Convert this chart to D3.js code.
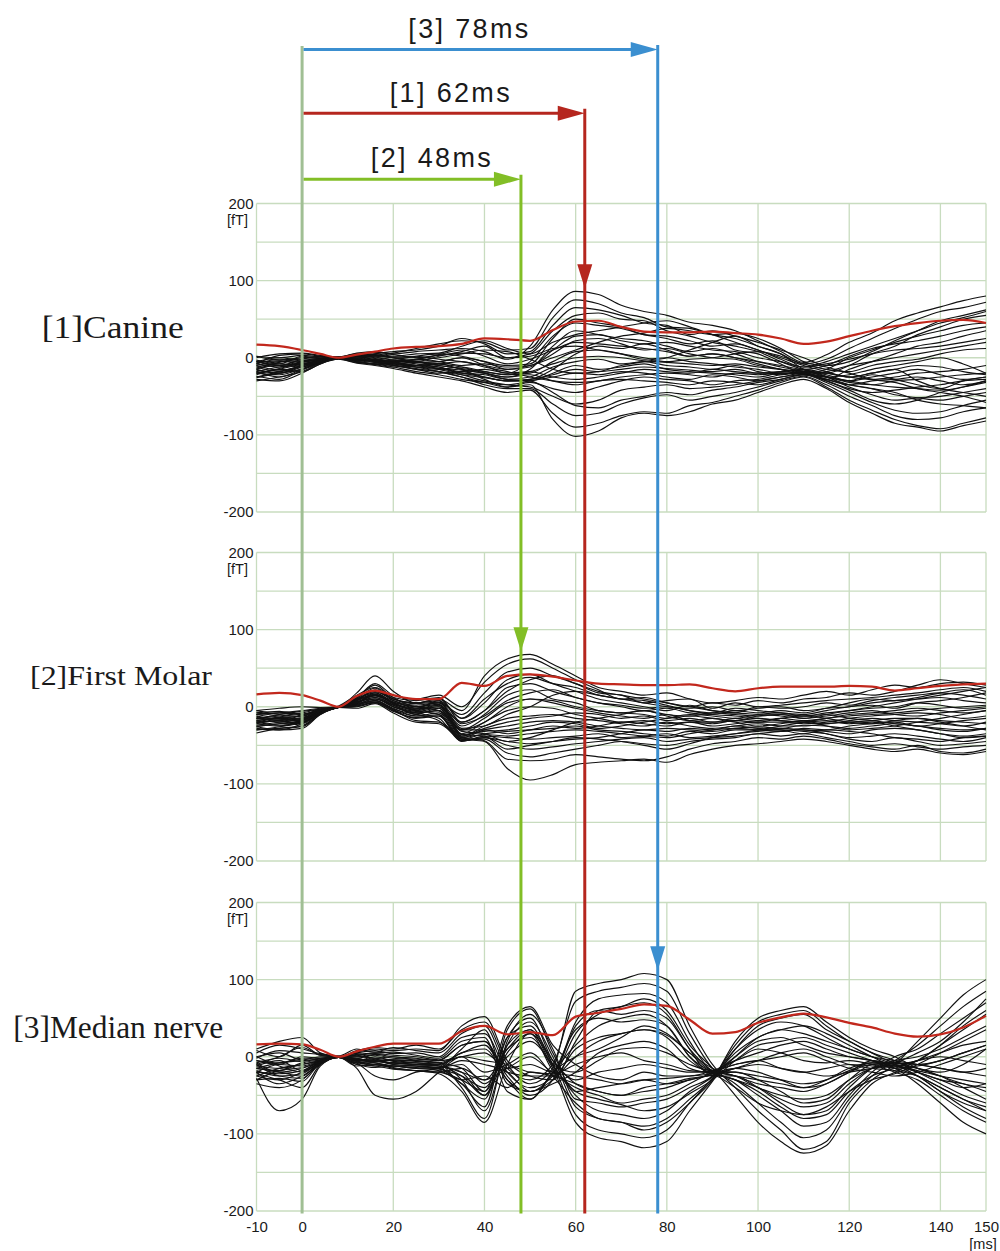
<!DOCTYPE html>
<html>
<head>
<meta charset="utf-8">
<script src="https://d3js.org/d3.v7.min.js"></script>
<style>
  body { margin: 0; background: #fff; }
  svg { display: block; }
  text { font-family: "Liberation Sans", Arial, sans-serif; fill: #1a1a1a; }
</style>
</head>
<body>
<div id="chart"></div>
<script>
// sample times (ms) shared by every trace
var times = [-10, -5, 0, 4, 8, 12, 16, 20, 25, 30, 35, 40, 45, 50, 55, 60, 65, 70, 75, 80,
             85, 90, 95, 100, 105, 110, 115, 120, 125, 130, 135, 140, 145, 150];

var panelNames = ["[1]Canine", "[2]First Molar", "[3]Median nerve"];
var yTicks = [200, 100, 0, -100, -200];
var xTicks = [-10, 0, 20, 40, 60, 80, 100, 120, 140, 150];
var latencies = [62, 48, 78];
var latencyLabels = ["[1] 62ms", "[2] 48ms", "[3] 78ms"];
var peakMarks = [90, 72, 112];   // fT level the down arrow points at

// red curves (RMS)
var canineRms = [17, 15, 10, 5, 0, 4, 8, 12, 14, 15, 18, 25, 24, 22, 36, 47, 48, 40, 34, 33,
                 33, 34, 32, 30, 25, 18, 21, 28, 35, 41, 45, 48, 49, 45];
var molarRms  = [16, 18, 15, 8, 0, 14, 21, 15, 10, 10, 31, 27, 40, 42, 39, 34, 30, 29, 28, 28,
                 29, 24, 20, 24, 26, 26, 26, 27, 26, 21, 24, 27, 29, 30];
var medianRms = [16, 17, 16, 9, 0, 7, 13, 17, 17, 17, 33, 40, 29, 32, 28, 52, 57, 62, 68, 66,
                 48, 30, 32, 44, 51, 56, 51, 44, 38, 30, 26, 29, 38, 53];

// black channel traces
var canineTraces = [
  [-8, 3, 5, 2, 0, 4, 7, 5, 8, 10, 12, 8, -2, 15, 62, 86, 82, 68, 60, 55, 46, 42, 35, 22, 8, -6, 4, 20, 32, 48, 58, 66, 74, 80],
  [-12, -6, 0, -1, 1, 3, 2, 6, 12, 18, 22, 20, 10, 12, 52, 75, 70, 58, 52, 40, 38, 30, 25, 15, 5, -8, -2, 12, 25, 38, 50, 60, 65, 72],
  [-20, -15, -8, -3, 0, -2, 5, 8, 10, 15, 25, 18, 5, 8, 42, 65, 62, 55, 45, 42, 30, 35, 28, 20, 10, 0, -10, -5, 8, 22, 35, 48, 55, 62],
  [-5, -10, -2, 2, 1, 5, 3, 0, -5, 2, 8, 15, 0, 5, 35, 55, 58, 50, 48, 35, 28, 20, 15, 8, -5, -15, -20, -10, 5, 15, 30, 40, 50, 55],
  [-25, -18, -10, -4, -1, -5, -8, -6, -2, -5, 0, -10, -20, -5, 28, 45, 42, 38, 30, 25, 18, 22, 10, 5, -8, -20, -15, 0, 10, 20, 28, 35, 42, 45],
  [-15, -20, -12, -5, 0, 2, -3, -5, -10, -8, -15, -20, -25, -15, 15, 35, 30, 25, 22, 15, 8, 12, 5, -5, -12, -18, -28, -15, -5, 5, 15, 20, 28, 35],
  [0, 5, 6, 3, 1, 6, 8, 4, 0, -5, -10, -8, -12, -10, 5, 22, 25, 18, 10, 12, 5, 0, -2, -10, -15, -22, -18, -10, -5, 0, 5, 10, 15, 20],
  [-18, -25, -15, -6, -1, -4, -2, -8, -12, -15, -12, -18, -22, -20, -5, 8, 10, 5, -2, 0, -5, -8, -12, -15, -20, -20, -25, -22, -15, -10, -5, 0, -8, -20],
  [-10, -5, -4, -2, 0, 2, 0, -3, -8, -12, -20, -22, -28, -25, -12, -5, -2, -8, -5, -10, -12, -15, -10, -18, -22, -18, -22, -30, -25, -20, -15, -22, -28, -25],
  [-22, -15, -18, -8, -1, -3, -5, -10, -15, -20, -18, -25, -30, -30, -20, -10, -15, -12, -8, -15, -18, -20, -22, -25, -20, -20, -28, -35, -30, -28, -25, -30, -35, -30],
  [-28, -30, -20, -8, -2, -6, -8, -12, -18, -22, -28, -32, -35, -30, -25, -20, -22, -18, -20, -25, -28, -22, -25, -30, -25, -22, -30, -40, -45, -42, -38, -35, -30, -28],
  [-8, -12, -6, -2, 0, 0, -3, -5, -5, -10, -15, -28, -38, -32, -40, -45, -38, -30, -25, -28, -30, -35, -30, -28, -22, -18, -25, -38, -48, -55, -52, -50, -45, -40],
  [-15, -8, -10, -4, 1, -2, -6, -8, -10, -15, -22, -30, -35, -38, -50, -60, -55, -42, -38, -35, -40, -38, -35, -30, -25, -20, -30, -42, -55, -60, -55, -45, -38, -30],
  [-5, 0, -3, -1, 0, 2, 4, 0, -5, -8, -12, -20, -28, -30, -45, -62, -65, -55, -50, -45, -48, -42, -38, -32, -28, -22, -32, -45, -58, -68, -72, -70, -62, -55],
  [-20, -22, -14, -6, -1, -4, -6, -10, -15, -18, -25, -35, -40, -40, -60, -75, -72, -60, -52, -48, -55, -50, -45, -38, -30, -24, -35, -50, -62, -75, -80, -78, -70, -65],
  [-30, -25, -18, -7, -2, -7, -10, -14, -20, -25, -30, -38, -45, -42, -72, -90, -85, -75, -70, -72, -62, -58, -50, -42, -32, -25, -38, -55, -68, -80, -88, -92, -85, -78],
  [-12, -18, -10, -5, 0, -1, -4, -6, -12, -18, -25, -32, -38, -35, -80, -102, -95, -78, -72, -75, -70, -60, -55, -45, -35, -28, -40, -58, -72, -85, -90, -95, -88, -82],
  [2, -3, 0, 1, 0, 3, 5, 2, 5, 6, 15, 22, 12, 5, 20, 30, 35, 40, 45, 48, 40, 30, 20, 10, 0, -10, -18, -25, -20, -15, -30, -40, -45, -50],
  [-8, -2, -5, -2, 0, 1, -2, -4, -3, 0, 5, 10, 8, -2, -15, -20, -18, -10, -5, 0, 10, 20, 28, 15, 5, -15, -25, -35, -40, -45, -55, -60, -62, -65],
  [-18, -12, -8, -4, 0, -3, -3, -8, -6, -5, 0, -5, -15, -10, 0, 10, 20, 28, 32, 38, 35, 30, 32, 25, 12, -5, -12, -20, -28, -32, -40, -45, -50, -58],
  [-24, -28, -16, -6, -1, -5, -9, -12, -10, -14, -20, -25, -30, -28, -15, 5, 15, 12, 18, 10, 2, 5, 0, -8, -15, -20, -25, -30, -22, -28, -35, -40, -30, -25],
  [-3, -8, 2, 0, 0, 3, 1, -2, 2, 5, 2, -5, -10, -8, 25, 50, 45, 40, 30, 28, 22, 15, 18, 10, -2, -12, -5, 5, 15, 25, 35, 45, 52, 60],
  [-14, -10, -12, -5, 0, -2, -4, -9, -14, -18, -22, -26, -30, -28, -22, -15, -18, -15, -12, -14, -16, -18, -15, -20, -18, -16, -24, -32, -35, -30, -28, -25, -22, -20],
  [-6, -4, -8, -3, 0, 1, -1, -5, -6, -10, -14, -18, -22, -18, -8, 0, 2, 0, -4, -6, -8, -10, -8, -12, -15, -18, -20, -25, -28, -25, -20, -18, -15, -10],
  [-20, -14, -6, -3, 0, -2, -3, -6, -10, -8, -5, -12, -18, -25, -30, -32, -30, -25, -22, -20, -22, -25, -20, -22, -20, -22, -25, -30, -35, -38, -40, -42, -38, -32],
  [-10, -16, -12, -5, -1, -3, -2, -4, -2, 4, 10, 2, -8, -2, 10, 20, 18, 15, 12, 8, 2, 5, 0, -5, -10, -15, -10, 2, 12, 18, 22, 28, 35, 40],
  [-26, -20, -15, -7, -1, -5, -8, -10, -12, -14, -16, -20, -25, -22, -30, -35, -30, -28, -30, -32, -35, -30, -32, -35, -28, -22, -28, -35, -40, -48, -52, -55, -50, -45],
  [2, 0, 3, 1, 0, 4, 3, 1, 2, -2, -5, -10, -15, -12, 10, 28, 30, 22, 18, 20, 15, 10, 8, 0, -5, -12, -8, -2, 5, 10, 12, 15, 20, 25],
  [-16, -20, -10, -4, 0, -1, -5, -7, -10, -12, -18, -15, -20, -18, -25, -28, -25, -20, -15, -18, -20, -15, -18, -20, -18, -15, -20, -25, -20, -15, -10, -12, -18, -22],
  [-4, -10, -5, -2, 0, 1, 2, 0, 0, 3, 6, 5, 0, 2, 12, 15, 10, 5, 0, -5, -2, 0, 5, 8, 2, -8, -15, -18, -10, -5, -2, 5, 10, 12]
];

var molarTraces = [
  [-10, -8, -5, -2, 0, 18, 40, 20, 5, 10, -5, 40, 62, 68, 55, 40, 25, 20, 15, 18, 10, 5, 8, 12, 10, 15, 20, 15, 22, 28, 25, 30, 32, 28],
  [-15, -12, -8, -3, 0, 12, 30, 15, 10, 15, 0, 32, 55, 62, 50, 35, 22, 10, 12, 5, 0, 5, 2, 8, 5, 10, 12, 18, 15, 20, 28, 35, 30, 25],
  [-5, -10, -12, -4, 1, 15, 25, 12, 0, 5, -10, 18, 45, 50, 40, 30, 18, 15, 5, 8, 10, -2, 5, 0, 2, 5, 8, 10, 12, 15, 18, 22, 25, 20],
  [-20, -18, -15, -6, -1, 8, 22, 10, 5, 8, -15, 5, 35, 42, 30, 20, 10, 5, 0, -5, 2, -5, -8, 0, -2, 0, 5, 2, 8, 12, 15, 18, 15, 10],
  [-12, -20, -10, -5, 0, 10, 18, 5, -5, 0, -20, -5, 25, 30, 20, 12, 5, 0, -5, -2, -8, -10, -5, -8, -5, -8, -2, 0, 5, 8, 10, 12, 8, 5],
  [-25, -22, -18, -7, -1, 5, 15, 8, -2, 2, -25, -10, 15, 22, 10, 5, -5, -8, -10, -15, -12, -15, -18, -12, -10, -12, -8, -5, -2, 0, 5, 2, -2, 0],
  [-18, -15, -20, -8, 0, 6, 12, 0, -8, -5, -30, -15, 5, 10, 5, -2, -8, -12, -15, -10, -18, -20, -15, -18, -15, -18, -15, -10, -8, -5, -2, -5, -8, -5],
  [-28, -30, -22, -9, -1, 4, 10, 2, -10, -2, -35, -20, -5, 0, -2, -10, -15, -20, -18, -22, -20, -25, -22, -20, -20, -22, -20, -15, -12, -10, -8, -10, -15, -12],
  [-8, -12, -16, -5, 0, 8, 14, 6, 0, 3, -38, -25, -15, -12, -10, -15, -18, -22, -25, -20, -25, -28, -25, -22, -25, -25, -22, -20, -18, -15, -15, -18, -20, -22],
  [-22, -25, -18, -7, -1, 2, 8, -2, -12, -8, -40, -30, -25, -20, -18, -20, -25, -28, -30, -28, -30, -32, -28, -26, -28, -24, -25, -28, -25, -22, -25, -28, -30, -28],
  [-15, -18, -24, -8, 0, 5, 12, 3, -5, -10, -42, -35, -32, -30, -28, -25, -30, -32, -35, -38, -32, -35, -30, -30, -28, -30, -32, -35, -30, -28, -30, -35, -38, -35],
  [-30, -28, -26, -10, -1, 0, 5, -5, -15, -12, -45, -38, -40, -42, -40, -38, -35, -40, -38, -35, -40, -38, -35, -32, -30, -32, -35, -40, -38, -35, -38, -42, -45, -40],
  [-10, -14, -12, -4, 0, 7, 10, 0, -8, -15, -44, -40, -50, -55, -52, -48, -45, -42, -40, -45, -42, -40, -38, -35, -32, -30, -35, -42, -45, -40, -45, -50, -48, -45],
  [-20, -15, -16, -6, 0, 3, 8, -3, -10, -18, -42, -42, -60, -65, -60, -55, -50, -45, -48, -50, -45, -42, -40, -35, -38, -35, -40, -45, -50, -48, -52, -55, -52, -50],
  [-26, -22, -20, -8, -1, 1, 6, -4, -18, -20, -40, -44, -68, -70, -68, -62, -65, -68, -70, -65, -55, -48, -45, -40, -42, -38, -42, -48, -52, -55, -50, -58, -60, -55],
  [-34, -28, -25, -9, -1, -2, 4, -8, -20, -22, -42, -45, -80, -95, -88, -75, -72, -70, -68, -72, -62, -55, -50, -48, -45, -42, -45, -50, -55, -58, -55, -60, -62, -58],
  [-5, -2, 0, -1, 0, 12, 28, 12, 8, 12, -20, -5, 20, 35, 40, 30, 20, 15, 10, 5, 0, -5, -8, -10, -12, -15, -10, -5, 0, 5, 10, 15, 20, 25],
  [-16, -10, -6, -3, 0, 10, 20, 8, 2, 5, -28, -25, -10, 0, 15, 20, 15, 10, 8, 2, -5, -10, -12, -15, -18, -20, -18, -22, -20, -25, -30, -35, -40, -38],
  [-12, -16, -14, -5, 0, 9, 16, 4, -3, 0, -32, -35, -45, -40, -30, -20, -15, -10, -5, -12, -18, -15, -20, -25, -22, -18, -25, -30, -28, -25, -20, -15, -10, -5],
  [-24, -20, -16, -7, -1, 4, 18, 5, -2, 8, -36, -38, -55, -50, -45, -40, -42, -45, -50, -55, -48, -40, -35, -30, -25, -20, -15, -12, -10, -8, -5, -2, 0, 2],
  [-14, -16, -18, -6, 0, 6, 15, 4, -4, 2, -30, -20, 0, 10, 8, 0, -5, -8, -5, -10, -12, -8, -10, -12, -10, -15, -12, -8, -5, -10, -12, -8, -5, -2],
  [-20, -24, -20, -8, -1, 3, 10, 0, -8, -5, -38, -28, -20, -15, -12, -8, -10, -15, -12, -18, -15, -20, -18, -15, -18, -20, -22, -18, -15, -18, -20, -22, -25, -20],
  [-10, -8, -10, -4, 0, 10, 20, 10, 5, 10, -15, 10, 30, 38, 30, 25, 15, 10, 5, 0, -2, 0, -5, -2, 0, -5, -2, 5, 10, 8, 12, 18, 22, 15],
  [-26, -30, -28, -10, -1, 1, 6, -6, -14, -10, -44, -40, -45, -48, -45, -42, -40, -35, -30, -32, -28, -30, -25, -28, -30, -35, -30, -32, -35, -40, -42, -45, -40, -38],
  [-18, -14, -12, -5, 0, 8, 16, 6, 0, -5, -30, -30, -35, -30, -25, -28, -25, -20, -22, -25, -20, -22, -18, -20, -15, -12, -15, -20, -22, -18, -15, -20, -25, -30],
  [-8, -6, -10, -3, 0, 11, 24, 10, 4, 6, -22, -12, 8, 18, 22, 12, 5, 2, -2, 0, -5, -8, -2, -5, -8, -10, -5, 0, 2, -2, 5, 8, 12, 18],
  [-22, -18, -22, -8, -1, 5, 14, 2, -6, -2, -36, -32, -30, -25, -20, -22, -28, -25, -20, -15, -10, -12, -15, -10, -8, -12, -10, -15, -18, -22, -25, -30, -32, -28],
  [-30, -26, -20, -8, -1, 2, 8, -4, -12, -12, -40, -36, -38, -35, -32, -30, -32, -35, -38, -40, -35, -30, -28, -30, -32, -28, -30, -25, -22, -20, -25, -22, -18, -15]
];

var medianTraces = [
  [10, 20, 25, 5, 0, 8, 12, 10, 15, 10, 35, 45, -10, -35, -15, 85, 95, 100, 108, 100, 40, -10, -40, -70, -95, -120, -110, -60, -30, -10, 20, 50, 80, 100],
  [5, 15, 10, 4, 1, 10, 6, 12, 8, 5, 30, 40, -15, -30, -10, 72, 85, 90, 95, 85, 30, -15, -35, -60, -85, -105, -95, -55, -25, -5, 15, 40, 65, 85],
  [-10, 0, 12, 2, 0, 5, 8, 4, 5, 0, 25, 30, -20, -40, -25, 45, 75, 80, 82, 70, 20, -20, -30, -50, -70, -90, -85, -50, -20, 0, 10, 30, 50, 70],
  [-15, -8, -5, -3, -1, -2, 3, 0, -2, -5, 15, 20, -25, -50, -30, 30, 55, 65, 70, 55, 10, -25, -25, -40, -60, -75, -70, -40, -15, -5, 0, 10, 25, 40],
  [0, -12, -20, -6, 0, -5, 0, -6, -8, -10, 5, 10, -30, -55, -20, 15, 40, 50, 55, 40, 0, -22, -20, -30, -45, -60, -55, -30, -10, -8, -15, -20, -10, 10],
  [-25, -15, -10, -5, 1, -8, -5, -10, -12, -15, -5, -10, -20, -45, -30, 0, 20, 30, 35, 25, -5, -20, -15, -20, -30, -40, -35, -20, -5, -10, -20, -30, -40, -35],
  [-30, -28, -32, -8, -1, -12, -10, -15, -18, -20, -15, -30, 10, 35, -10, -20, -5, 10, 12, 5, -10, -18, -10, -5, -15, -20, -15, -10, -12, -15, -25, -40, -55, -65],
  [-20, -35, -25, -10, 0, -6, -12, -8, -10, -12, -25, -50, 25, 50, -5, -30, -20, -15, -10, -15, -20, -20, -5, 10, 5, -5, -8, -5, -10, -20, -30, -50, -70, -85],
  [-8, -20, -15, -6, 0, -3, -8, -12, -15, -18, -35, -65, 35, 62, 5, -45, -40, -35, -30, -35, -30, -22, 0, 20, 25, 15, 5, 0, -5, -15, -35, -60, -85, -100],
  [-12, -5, -18, -4, 0, 2, -4, -5, -8, -10, -40, -80, 20, 55, 10, -55, -60, -65, -60, -55, -40, -25, 10, 35, 45, 40, 25, 10, 0, -10, -25, -45, -65, -80],
  [-5, -10, 0, -2, 0, 4, -2, 0, -5, -8, -30, -70, 15, 45, 0, -65, -80, -85, -90, -80, -55, -28, 15, 45, 55, 60, 40, 20, 5, -5, -20, -35, -50, -60],
  [-18, -25, -22, -7, -1, -4, -6, -8, -10, -12, -20, -50, 5, 30, -10, -75, -95, -100, -105, -95, -60, -30, 20, 50, 60, 65, 45, 25, 10, 0, -15, -25, -35, -40],
  [-35, -40, -30, -9, -1, -10, -14, -12, -15, -14, -10, -35, 0, 20, -15, -85, -105, -110, -118, -110, -70, -32, 10, 40, 50, 55, 35, 20, 5, -8, -10, -15, -20, -25],
  [-28, -70, -55, -12, -1, -15, -50, -55, -45, -20, 0, -20, -10, 5, -25, -60, -80, -85, -95, -85, -60, -28, 0, 25, 35, 40, 30, 15, 0, -12, -5, 0, -5, -10],
  [-22, -30, -40, -10, 0, -8, -25, -30, -20, -15, 10, 35, -35, -45, -35, -20, 5, 15, 20, 10, -15, -22, -30, -45, -65, -80, -75, -45, -25, -15, -5, 5, 15, 20],
  [-2, 8, 5, 3, 0, 6, 10, 8, 10, 8, 40, 52, -5, -25, -30, 20, 60, 65, 75, 60, 15, -15, -50, -85, -110, -125, -115, -70, -35, -20, -5, 15, 40, 60],
  [-15, -18, -8, -4, 0, -4, -3, -10, -12, -15, -30, -25, -40, -20, -25, -35, -45, -50, -45, -40, -30, -24, -40, -60, -70, -75, -65, -45, -30, -22, -10, 5, 20, 35],
  [-20, -10, -12, -5, 0, -6, -8, -14, -18, -22, -45, -85, -10, 30, -18, -40, -50, -60, -55, -50, -35, -20, -10, -5, 0, 5, -5, -15, -20, -25, -20, -10, 0, 10],
  [8, 0, 15, 2, 0, 3, 5, 6, 2, -2, 20, 25, -45, -55, -20, 0, 10, 25, 40, 30, 5, -15, -25, -35, -40, -45, -35, -20, -10, -12, -25, -45, -60, -70],
  [-10, -25, -28, -7, 0, -2, -6, -4, -5, -8, -15, -45, 40, 65, 15, -10, -25, -30, -20, -25, -25, -18, -5, 5, 15, 20, 10, 0, -5, -10, -15, -25, -40, -55],
  [-12, -15, -10, -5, 0, -3, -5, -8, -10, -12, -20, -30, -15, 0, -20, -25, -30, -35, -30, -28, -25, -22, -15, -10, -15, -20, -25, -20, -15, -12, -18, -25, -30, -35],
  [-5, -8, -2, -2, 0, 0, -2, -4, -6, -8, 5, 15, -20, -25, -25, 10, 25, 30, 35, 28, 5, -18, -20, -25, -30, -35, -30, -18, -8, -8, -10, -5, 5, 15],
  [-20, -22, -18, -6, 0, -6, -10, -12, -14, -16, -25, -40, 15, 35, -5, -35, -45, -50, -40, -35, -28, -24, -15, -5, 5, 10, 0, -10, -15, -18, -25, -40, -55, -70],
  [-8, -2, -6, -2, 0, 0, 2, -2, -3, -5, 0, 5, -15, -10, -20, 40, 60, 55, 60, 50, 10, -18, -25, -40, -50, -55, -50, -30, -15, -10, -5, 15, 35, 55],
  [-25, -30, -20, -8, -1, -8, -10, -12, -12, -14, -35, -55, 25, 40, -10, -50, -70, -75, -80, -70, -45, -26, 5, 25, 35, 30, 20, 10, 0, -5, -10, -15, -20, -15],
  [-15, -20, -25, -6, 0, -4, -6, -8, -10, -10, 0, -5, -10, -20, -22, -10, 0, 5, -5, -10, -18, -20, -25, -30, -35, -40, -30, -15, -8, -12, -20, -30, -35, -45],
  [0, 5, -4, 0, 0, 2, 4, 2, 0, -4, 15, 20, -30, -45, -22, 35, 50, 45, 48, 40, 0, -20, -30, -40, -55, -65, -60, -35, -15, -8, 5, 20, 45, 75],
  [-30, -18, -14, -7, -1, -10, -12, -16, -18, -20, -30, -45, 10, 25, -12, -45, -55, -62, -70, -65, -48, -30, -5, 15, 20, 25, 15, 5, -5, -15, -12, -5, 5, 15]
];

var allTraces = [canineTraces, molarTraces, medianTraces];
var allRms = [canineRms, molarRms, medianRms];

// layout
var width = 1000, height = 1251;
var panelTop = [203.5, 552.5, 902.5], panelH = 308.5;
var nameLayout = [
  { x: 41.7, y: 338, len: 142, size: 31 },
  { x: 30, y: 685, len: 182, size: 28 },
  { x: 13.3, y: 1038, len: 210, size: 31 }
];
var arrowColors = ["#b5261e", "#82be26", "#3b8fd0"];
var arrowRowY = [113.3, 179.3, 49.5];
var labelX = [449.7, 430.8, 468.3], labelY = [101.7, 166.7, 38.3];

var svg = d3.select("#chart").append("svg")
  .attr("width", width).attr("height", height);
svg.append("rect").attr("width", width).attr("height", height).attr("fill", "#fff");

var x = d3.scaleLinear().domain([-10, 150]).range([256.5, 986]);
var gridColor = "#c8dcbf";
var tickFont = "'Liberation Sans', Arial, sans-serif";

var yScales = panelTop.map(function(top) {
  return d3.scaleLinear().domain([-200, 200]).range([top + panelH, top]);
});

panelNames.forEach(function(name, p) {
  var y = yScales[p];
  var g = svg.append("g");

  // grid
  g.selectAll(".hgrid").data(d3.range(-200, 201, 50)).enter()
    .append("line")
    .attr("x1", x(-10)).attr("x2", x(150))
    .attr("y1", function(d) { return y(d); }).attr("y2", function(d) { return y(d); })
    .attr("stroke", gridColor).attr("stroke-width", 1.3);
  g.selectAll(".vgrid").data([-10, 0, 20, 40, 60, 80, 100, 120, 140, 150]).enter()
    .append("line")
    .attr("x1", function(d) { return x(d); }).attr("x2", function(d) { return x(d); })
    .attr("y1", y(200)).attr("y2", y(-200))
    .attr("stroke", gridColor).attr("stroke-width", 1.3);

  // y axis labels
  var yAxis = d3.axisLeft(y).tickValues(yTicks).tickSize(0).tickPadding(3)
    .tickFormat(function(d) { return String(d); });
  var ya = g.append("g").attr("transform", "translate(" + x(-10) + ",0)").call(yAxis);
  ya.select(".domain").remove();
  ya.selectAll("text").style("font-size", "15px").style("font-family", tickFont).attr("fill", "#1a1a1a");
  g.append("text").attr("x", 227).attr("y", y(200) + 21)
    .style("font-size", "14.5px").text("[fT]");

  // traces
  var line = d3.line()
    .x(function(d, i) { return x(times[i]); })
    .y(function(d) { return y(d); })
    .curve(d3.curveMonotoneX);
  g.selectAll(".trace").data(allTraces[p]).enter()
    .append("path")
    .attr("d", line)
    .attr("fill", "none").attr("stroke", "#111").attr("stroke-width", 1.15)
    .attr("stroke-linejoin", "round");
  g.append("path").datum(allRms[p])
    .attr("d", line)
    .attr("fill", "none").attr("stroke", "#c2281d").attr("stroke-width", 2.2);

  // panel name
  var nl = nameLayout[p];
  svg.append("text").attr("x", nl.x).attr("y", nl.y)
    .attr("textLength", nl.len).attr("lengthAdjust", "spacingAndGlyphs")
    .style("font-family", "'Liberation Serif', 'Times New Roman', serif")
    .style("font-size", nl.size + "px").attr("fill", "#111")
    .text(name);
});

// x axis labels (bottom panel only)
var xAxis = d3.axisBottom(x).tickValues(xTicks).tickSize(0).tickPadding(10)
  .tickFormat(function(d) { return String(d); });
var xa = svg.append("g").attr("transform", "translate(0," + (panelTop[2] + panelH) + ")").call(xAxis);
xa.select(".domain").remove();
xa.selectAll("text").style("font-size", "15px").style("font-family", tickFont).attr("fill", "#1a1a1a");
svg.append("text").attr("x", 983).attr("y", 1249).attr("text-anchor", "middle")
  .style("font-size", "14.5px").text("[ms]");

// stimulus onset line
var bottomY = 1213.5;
svg.append("line").attr("x1", x(0)).attr("x2", x(0))
  .attr("y1", 46).attr("y2", bottomY)
  .attr("stroke", "#a0bf94").attr("stroke-width", 3);

// latency arrows
latencies.forEach(function(t, k) {
  var c = arrowColors[k], ay = arrowRowY[k], tx = x(t);
  svg.append("line").attr("x1", x(0) + 1.5).attr("x2", tx - 24)
    .attr("y1", ay).attr("y2", ay)
    .attr("stroke", c).attr("stroke-width", 3);
  svg.append("path")
    .attr("d", "M" + tx + "," + ay + "L" + (tx - 27) + "," + (ay - 7.5) + "L" + (tx - 27) + "," + (ay + 7.5) + "Z")
    .attr("fill", c);
  svg.append("line").attr("x1", tx).attr("x2", tx)
    .attr("y1", ay - 4.5).attr("y2", bottomY)
    .attr("stroke", c).attr("stroke-width", 3);
  var tipY = yScales[k](peakMarks[k]);
  svg.append("path")
    .attr("d", "M" + tx + "," + tipY + "L" + (tx - 7.5) + "," + (tipY - 24) + "L" + (tx + 7.5) + "," + (tipY - 24) + "Z")
    .attr("fill", c);
  svg.append("text").attr("x", labelX[k]).attr("y", labelY[k])
    .attr("text-anchor", "middle")
    .attr("textLength", 120).attr("lengthAdjust", "spacing")
    .style("font-size", "27px").attr("fill", "#111")
    .text(latencyLabels[k]);
});
</script>
</body>
</html>
